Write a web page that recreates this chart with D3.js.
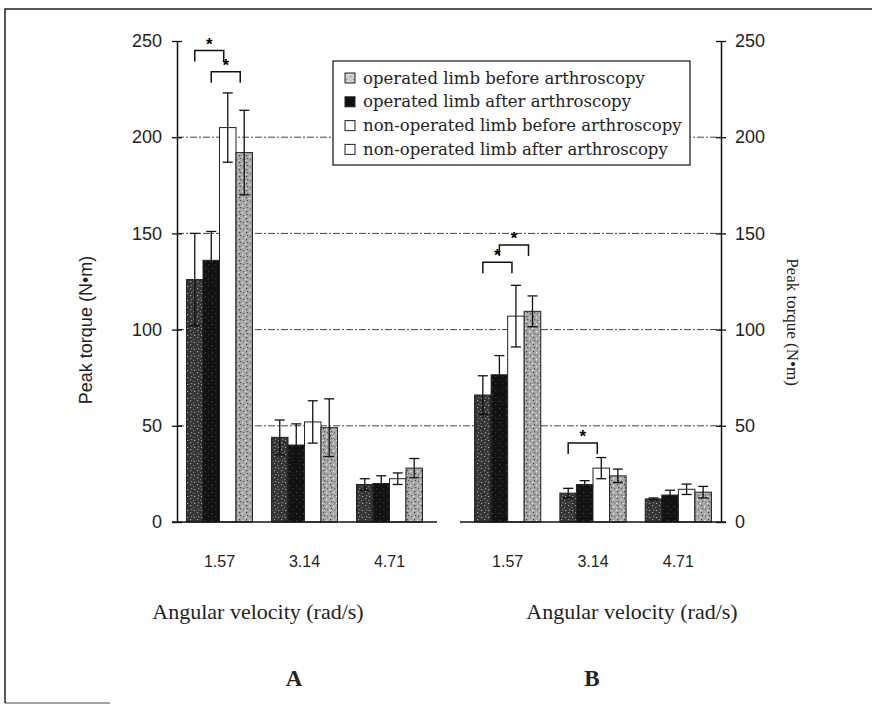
<!DOCTYPE html>
<html>
<head>
<meta charset="utf-8">
<script src="https://cdn.jsdelivr.net/npm/d3@7/dist/d3.min.js"></script>
<style>
  body { margin: 0; background: #fff; }
  svg { display: block; }
</style>
</head>
<body>
<svg id="chart" width="872" height="705"></svg>
<script>
var velocities = ['1.57', '3.14', '4.71'];
var seriesNames = [
  'operated limb before arthroscopy',
  'operated limb after arthroscopy',
  'non-operated limb before arthroscopy',
  'non-operated limb after arthroscopy'
];
var yTicks = [0, 50, 100, 150, 200, 250];

// mean peak torque per velocity, one array per series (panel A)
var meanA = [
  [126, 44, 19.5],
  [136, 40, 20],
  [205, 52, 22.5],
  [192, 49, 28]
];
var sdA = [
  [24, 9, 3],
  [15, 11, 4],
  [18, 11, 3],
  [22, 15, 5]
];
// panel B
var meanB = [
  [66, 15, 12],
  [76.5, 19.5, 14],
  [107, 28, 17],
  [109.5, 24, 15.5]
];
var sdB = [
  [10, 2.5, 0.5],
  [10, 2, 2.5],
  [16, 5.5, 2.7],
  [8, 3.5, 3]
];
// significant pairs: velocity, series from, series to, bracket height (N·m)
var sigA = [['1.57', 0, 2, 245], ['1.57', 1, 3, 234]];
var sigB = [['1.57', 0, 2, 135], ['1.57', 1, 3, 144], ['3.14', 0, 2, 41]];

var svg = d3.select('#chart');
var sans = 'Liberation Sans, Arial, sans-serif';
var serif = 'Liberation Serif, Times New Roman, serif';

// outer frame
svg.append('path')
  .attr('d', 'M5,703 L5,9 L872,9')
  .attr('fill', 'none').attr('stroke', '#222').attr('stroke-width', 1.5);
svg.append('line')
  .attr('x1', 5).attr('x2', 110).attr('y1', 703).attr('y2', 703)
  .attr('stroke', '#444').attr('stroke-width', 1.2);

// textures
var defs = svg.append('defs');
function speckle(id, bg, dots) {
  var p = defs.append('pattern').attr('id', id)
    .attr('patternUnits', 'userSpaceOnUse').attr('width', 7).attr('height', 7);
  p.append('rect').attr('width', 7).attr('height', 7).attr('fill', bg);
  dots.forEach(function(d){
    p.append('rect').attr('x', d[0]).attr('y', d[1]).attr('width', 1.2).attr('height', 1.2).attr('fill', d[2]);
  });
}
speckle('sp0', '#353535', [[1,1,'#9a9a9a'],[4,3,'#7a7a7a'],[2,5,'#888'],[5,6,'#aaa']]);
speckle('sp1', '#121212', [[2,2,'#444'],[5,5,'#333']]);
speckle('sp3', '#a8a8a8', [[1,1,'#444'],[4,2,'#eee'],[2,4,'#555'],[5,5,'#666'],[0,6,'#eee']]);
speckle('spL', '#cfcfcf', [[1,1,'#777'],[3,3,'#eee'],[5,5,'#888']]);
var fills = ['url(#sp0)', 'url(#sp1)', '#fff', 'url(#sp3)'];
var legendFills = ['url(#spL)', '#111', '#fff', '#fff'];

var y = d3.scaleLinear().domain([0, 250]).range([522, 41]);
var leftX = 177, rightX = 721;

// grid lines across both panels
svg.append('g').selectAll('line')
  .data([50, 100, 150, 200])
  .enter().append('line')
  .attr('x1', leftX).attr('x2', rightX)
  .attr('y1', function(d){ return y(d) }).attr('y2', function(d){ return y(d) })
  .attr('stroke', '#444').attr('stroke-width', 1)
  .attr('stroke-dasharray', '7,2,2,2');

function drawPanel(x0, x1, means, sds, sigs) {
  var x = d3.scaleBand().domain(velocities).range([x0, x1])
    .paddingInner(0.224).paddingOuter(0.112);
  var xi = d3.scaleBand().domain(d3.range(seriesNames.length)).range([0, x.bandwidth()]);
  var rows = [];
  means.forEach(function(row, s){
    row.forEach(function(m, v){
      rows.push({ s: s, v: velocities[v], m: m, sd: sds[s][v] });
    });
  });
  var g = svg.append('g');
  g.selectAll('rect.bar')
    .data(rows)
    .enter().append('rect')
    .attr('class', 'bar')
    .attr('x', function(d){ return x(d.v) + xi(d.s) })
    .attr('width', xi.bandwidth())
    .attr('y', function(d){ return y(d.m) })
    .attr('height', function(d){ return y(0) - y(d.m) })
    .attr('fill', function(d){ return fills[d.s] })
    .attr('stroke', '#222').attr('stroke-width', 1);

  var err = g.selectAll('g.err')
    .data(rows)
    .enter().append('g')
    .attr('class', 'err')
    .attr('transform', function(d){ return 'translate(' + (x(d.v) + xi(d.s) + xi.bandwidth() / 2) + ',0)' });
  err.append('line')
    .attr('y1', function(d){ return y(d.m - d.sd) }).attr('y2', function(d){ return y(d.m + d.sd) });
  err.append('line')
    .attr('x1', -5).attr('x2', 5)
    .attr('y1', function(d){ return y(d.m + d.sd) }).attr('y2', function(d){ return y(d.m + d.sd) });
  err.append('line')
    .attr('x1', -5).attr('x2', 5)
    .attr('y1', function(d){ return y(d.m - d.sd) }).attr('y2', function(d){ return y(d.m - d.sd) });
  err.selectAll('line').attr('stroke', '#111').attr('stroke-width', 1.3);

  // baseline
  g.append('line')
    .attr('x1', x0 - 5).attr('x2', x1 + 5)
    .attr('y1', y(0)).attr('y2', y(0))
    .attr('stroke', '#111').attr('stroke-width', 1.6);

  // category labels
  g.selectAll('text.cat')
    .data(velocities)
    .enter().append('text')
    .attr('class', 'cat')
    .attr('x', function(d){ return x(d) + x.bandwidth() / 2 })
    .attr('y', 567)
    .attr('text-anchor', 'middle')
    .attr('font-family', sans).attr('font-size', 16).attr('fill', '#222')
    .text(function(d){ return d });

  // significance brackets
  var sg = g.selectAll('g.sig')
    .data(sigs)
    .enter().append('g')
    .attr('class', 'sig');
  sg.append('path')
    .attr('d', function(d){
      var a = x(d[0]) + xi(d[1]) + xi.bandwidth() / 2;
      var b = x(d[0]) + xi(d[2]) + xi.bandwidth() / 2 - 4;
      var t = y(d[3]);
      return 'M' + a + ',' + (t + 11) + 'L' + a + ',' + t + 'L' + b + ',' + t + 'L' + b + ',' + (t + 11);
    })
    .attr('fill', 'none').attr('stroke', '#111').attr('stroke-width', 1.5);
  sg.append('text')
    .attr('x', function(d){ return x(d[0]) + (xi(d[1]) + xi(d[2]) + xi.bandwidth()) / 2 - 2 })
    .attr('y', function(d){ return y(d[3]) - 1 })
    .attr('text-anchor', 'middle')
    .attr('font-family', sans).attr('font-size', 17).attr('font-weight', 'bold')
    .text('*');
}

drawPanel(177, 432, meanA, sdA, sigA);
drawPanel(465, 721, meanB, sdB, sigB);

// axes
var axL = svg.append('g').attr('transform', 'translate(' + leftX + ',0)')
  .call(d3.axisLeft(y).tickValues(yTicks).tickSizeInner(5).tickSizeOuter(0).tickPadding(10));
var axR = svg.append('g').attr('transform', 'translate(' + rightX + ',0)')
  .call(d3.axisRight(y).tickValues(yTicks).tickSizeInner(5).tickSizeOuter(0).tickPadding(9));
axL.selectAll('.tick line').attr('x1', 5);
axR.selectAll('.tick line').attr('x1', -5);
[axL, axR].forEach(function(ax){
  ax.select('.domain').attr('stroke', '#111').attr('stroke-width', 1.5);
  ax.selectAll('.tick line').attr('stroke', '#111').attr('stroke-width', 1.3);
  ax.selectAll('text').attr('font-family', sans).attr('font-size', 18).attr('fill', '#222');
});

// axis titles
svg.append('text')
  .attr('transform', 'translate(92,330) rotate(-90)')
  .attr('text-anchor', 'middle')
  .attr('font-family', sans).attr('font-size', 18).attr('fill', '#222')
  .text('Peak torque (N•m)');
svg.append('text')
  .attr('transform', 'translate(787,322) rotate(90)')
  .attr('text-anchor', 'middle')
  .attr('font-family', serif).attr('font-size', 17).attr('fill', '#222')
  .text('Peak torque (N•m)');

svg.selectAll('text.xt')
  .data([258, 632])
  .enter().append('text')
  .attr('class', 'xt')
  .attr('x', function(d){ return d }).attr('y', 619)
  .attr('text-anchor', 'middle')
  .attr('font-family', serif).attr('font-size', 22).attr('fill', '#222')
  .text('Angular velocity (rad/s)');

svg.selectAll('text.pl')
  .data(['A', 'B'])
  .enter().append('text')
  .attr('class', 'pl')
  .attr('x', function(d, i){ return i ? 592 : 294 }).attr('y', 686)
  .attr('text-anchor', 'middle')
  .attr('font-family', serif).attr('font-size', 23).attr('font-weight', 'bold').attr('fill', '#222')
  .text(function(d){ return d });

// legend
var lg = svg.append('g').attr('transform', 'translate(333,61)');
lg.append('rect')
  .attr('width', 357).attr('height', 104)
  .attr('fill', '#fff').attr('stroke', '#222').attr('stroke-width', 1.3);
var item = lg.selectAll('g.item')
  .data(seriesNames)
  .enter().append('g')
  .attr('class', 'item')
  .attr('transform', function(d, i){ return 'translate(12,' + (17 + i * 23.8) + ')' });
item.append('rect')
  .attr('x', 0).attr('y', -5).attr('width', 10).attr('height', 10)
  .attr('fill', function(d, i){ return legendFills[i] })
  .attr('stroke', '#222').attr('stroke-width', 1);
item.append('text')
  .attr('x', 18).attr('y', 5.5)
  .attr('font-family', 'DejaVu Serif, serif').attr('font-size', 16.5).attr('fill', '#222')
  .text(function(d){ return d });
</script>
</body>
</html>
